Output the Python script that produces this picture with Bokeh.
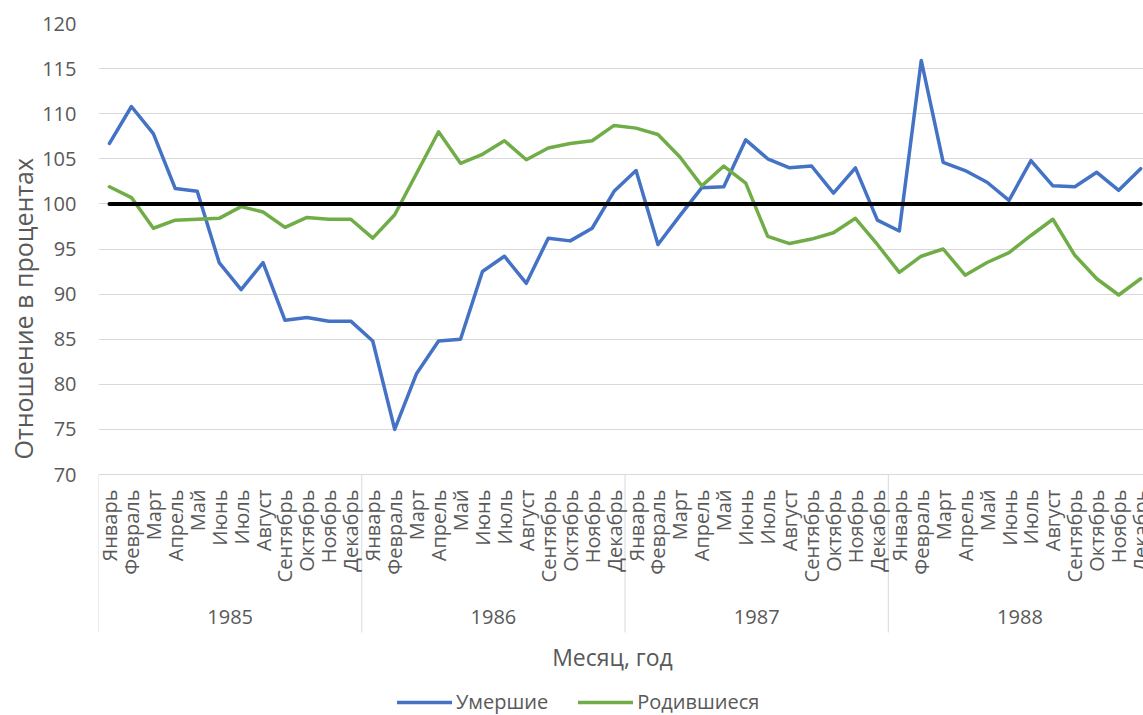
import math

from bokeh.plotting import figure
from bokeh.models import FixedTicker, Legend, LegendItem, Title, Range1d
from bokeh.core.properties import value
from bokeh.embed import file_html
from bokeh.resources import INLINE

# --- data -------------------------------------------------------------------
YEARS = ["1985", "1986", "1987", "1988"]
MONTHS = ["Январь", "Февраль", "Март", "Апрель", "Май", "Июнь", "Июль",
          "Август", "Сентябрь", "Октябрь", "Ноябрь", "Декабрь"]

# deaths, % of the same month of the base period
DEATHS = [
    106.7, 110.8, 107.8, 101.7, 101.4, 93.5, 90.5, 93.5, 87.1, 87.4, 87.0, 87.0,
    84.8, 75.0, 81.2, 84.8, 85.0, 92.5, 94.2, 91.2, 96.2, 95.9, 97.3, 101.4,
    103.7, 95.5, 98.7, 101.8, 101.9, 107.1, 105.0, 104.0, 104.2, 101.2, 104.0, 98.2,
    97.0, 115.9, 104.6, 103.7, 102.4, 100.4, 104.8, 102.0, 101.9, 103.5, 101.5, 103.9,
]
# births, % of the same month of the base period
BIRTHS = [
    101.9, 100.7, 97.3, 98.2, 98.3, 98.4, 99.7, 99.1, 97.4, 98.5, 98.3, 98.3,
    96.2, 98.8, 103.4, 108.0, 104.5, 105.5, 107.0, 104.9, 106.2, 106.7, 107.0, 108.7,
    108.4, 107.7, 105.2, 102.0, 104.2, 102.3, 96.4, 95.6, 96.1, 96.8, 98.4, 95.5,
    92.4, 94.2, 95.0, 92.1, 93.5, 94.6, 96.5, 98.3, 94.3, 91.7, 89.9, 91.7,
]
BASE_LEVEL = 100  # 100 % = no change

Y_MIN, Y_MAX = 70, 120
Y_TICKS = [70, 75, 80, 85, 90, 95, 100, 105, 110, 115, 120]
X_TITLE = "Месяц, год"
Y_TITLE = "Отношение в процентах"

# --- layout constants (pixels) -----------------------------------------------
LEFT, TOP = 98, 23
FRAME_W, VALUE_H = 1045, 451        # value area 70..120
BELOW_H = 241                       # category band, axis title and legend
CAT_H = 158                         # height of the category band
SLOT = 21.94                        # width of one month

PX_PER_UNIT = VALUE_H / (Y_MAX - Y_MIN)


def y_below(px):
    """Data y for a point `px` pixels under the 70 line."""
    return Y_MIN - px / PX_PER_UNIT


def x_at(px):
    """Data x for an absolute horizontal pixel position."""
    return -0.5 + (px - LEFT) / SLOT


n = len(DEATHS)
xs = list(range(n))
month_text = [MONTHS[i % 12] for i in xs]
year_edges = [k * 12 - 0.5 for k in range(len(YEARS) + 1)]
year_centres = [k * 12 + 5.5 for k in range(len(YEARS))]

FONT = "Open Sans"
TEXT = "#595959"
GRID = "#d9d9d9"

p = figure(frame_width=FRAME_W, frame_height=VALUE_H + BELOW_H,
           x_range=Range1d(-0.5, x_at(LEFT + FRAME_W)),
           y_range=Range1d(y_below(BELOW_H), Y_MAX),
           min_border_left=LEFT, min_border_right=0, min_border_top=TOP,
           min_border_bottom=0, output_backend="svg", toolbar_location=None,
           background_fill_color="white", border_fill_color="white")
p.outline_line_color = None
p.xaxis.visible = False
p.xgrid.visible = False
p.ygrid.grid_line_color = GRID
p.ygrid.grid_line_width = 1

# y axis
yax = p.yaxis[0]
yax.ticker = FixedTicker(ticks=Y_TICKS)
yax.axis_line_color = None
yax.major_tick_line_color = None
yax.minor_tick_line_color = None
yax.major_tick_out = 0
yax.major_tick_in = 0
yax.major_label_standoff = 22
yax.major_label_text_font = FONT
yax.major_label_text_font_size = "20px"
yax.major_label_text_color = TEXT

p.add_layout(Title(text=Y_TITLE, align="left", offset=BELOW_H + 15,
                   standoff=0, text_font=FONT, text_font_size="25px",
                   text_font_style="normal", text_color=TEXT), "left")

# category band: year separators, month names, year captions
p.segment(x0=year_edges, y0=[Y_MIN] * len(year_edges),
          x1=year_edges, y1=[y_below(CAT_H)] * len(year_edges),
          line_color=GRID, line_width=1)
p.text(x=xs, y=[y_below(15)] * n, text=month_text, angle=math.pi / 2,
       text_align="right", text_baseline="middle", text_font=value(FONT),
       text_font_size="20px", text_color=TEXT)
p.text(x=year_centres, y=[y_below(142)] * len(YEARS), text=YEARS,
       text_align="center", text_baseline="middle", text_font=value(FONT),
       text_font_size="20px", text_color=TEXT)

# horizontal axis title
p.text(x=[x_at(612)], y=[y_below(182)], text=[X_TITLE],
       text_align="center", text_baseline="middle", text_font=value(FONT),
       text_font_size="23px", text_color=TEXT)

# series
r_d = p.line(xs, DEATHS, line_color="#4472C4", line_width=3.5,
             line_join="round", line_cap="round")
r_b = p.line(xs, BIRTHS, line_color="#70AD47", line_width=3.5,
             line_join="round", line_cap="round")
p.line(xs, [BASE_LEVEL] * n, line_color="black", line_width=4, line_cap="round")

legend = Legend(items=[LegendItem(label="Умершие", renderers=[r_d]),
                       LegendItem(label="Родившиеся", renderers=[r_b])],
                orientation="horizontal", location=(299, 0),
                label_text_font=FONT, label_text_font_size="20px",
                label_text_color=TEXT, glyph_width=55, glyph_height=20,
                label_standoff=4, spacing=30, padding=0, margin=0,
                border_line_color=None, background_fill_alpha=0)
p.add_layout(legend, "center")

open("out.html", "w").write(file_html(p, INLINE))
